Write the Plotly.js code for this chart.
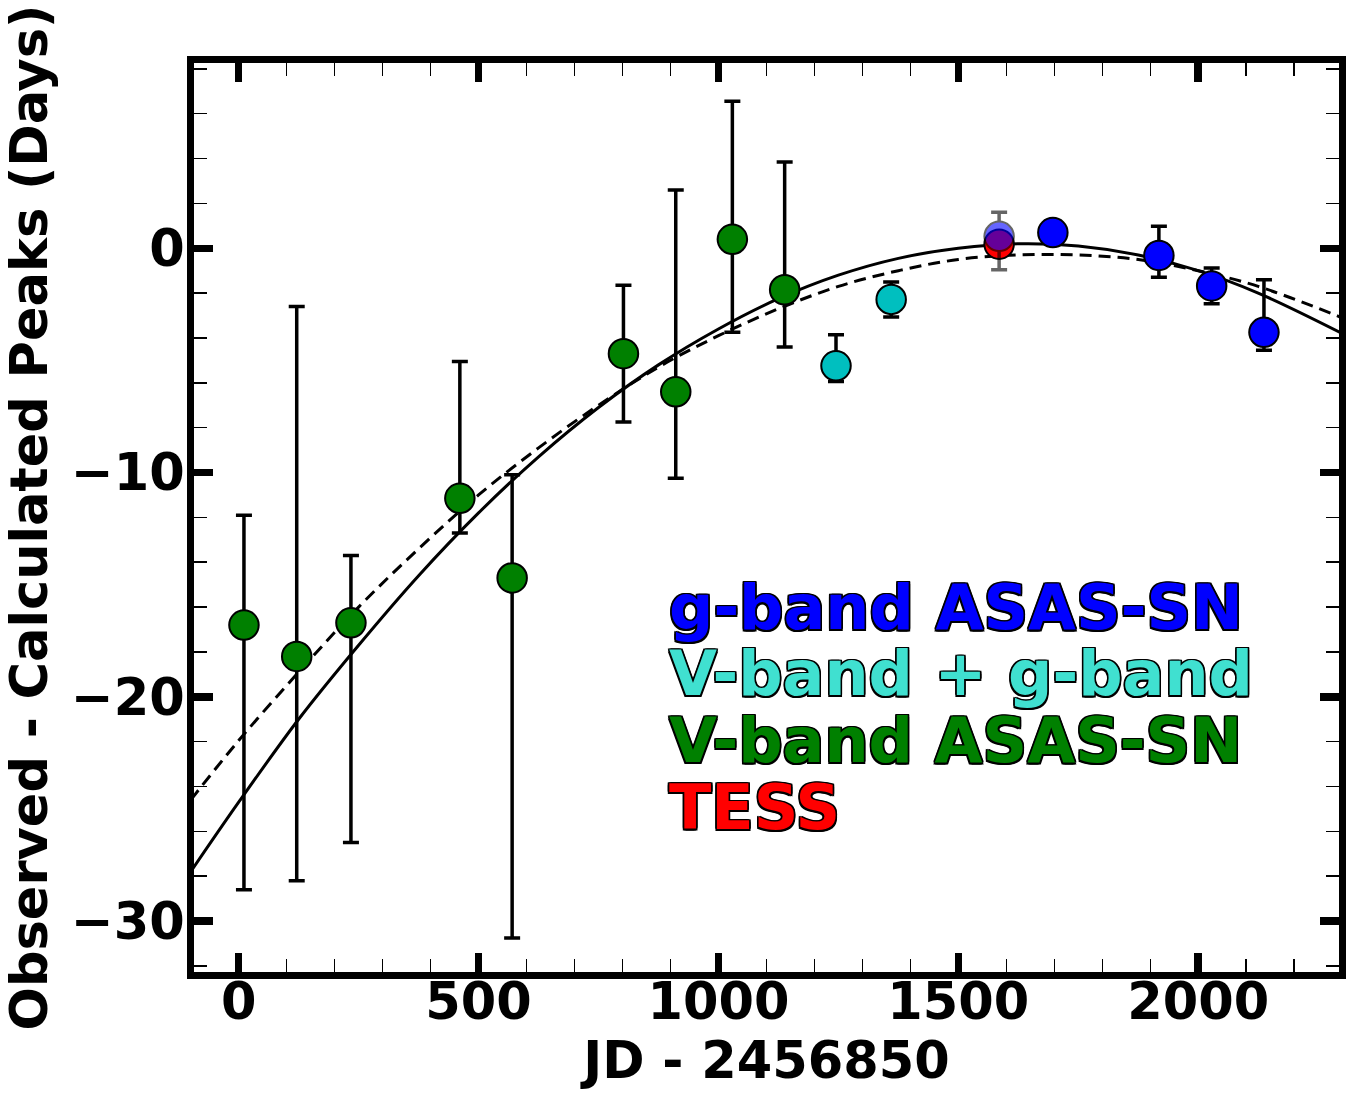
<!DOCTYPE html>
<html>
<head>
<meta charset="utf-8">
<script src="https://cdn.plot.ly/plotly-3.0.1.min.js"></script>
<style>html,body{margin:0;padding:0;background:#fff;}#chart{width:1369px;height:1093px;}</style>
</head>
<body>
<div id="chart"></div>
<script>
// V-band ASAS-SN
const vbandX = [11, 121, 234, 461, 570, 802, 911, 1029, 1138];
const vbandY = [-16.8, -18.2, -16.7, -11.15, -14.7, -4.7, -6.4, 0.4, -1.85];
const vbandErrPlus = [4.9, 15.6, 3.0, 6.1, 4.6, 3.05, 9.0, 6.15, 5.7];
const vbandErrMinus = [11.8, 10.0, 9.8, 1.55, 16.05, 3.05, 3.85, 4.15, 2.55];
// V-band + g-band
const vgX = [1245, 1360];
const vgY = [-5.24, -2.28];
const vgErrPlus = [1.38, 0.77];
const vgErrMinus = [0.70, 0.79];
// g-band ASAS-SN
const gbandX = [1697, 1918, 2028, 2137];
const gbandY = [0.70, -0.32, -1.68, -3.75];
const gbandErrPlus = [0.45, 1.30, 0.80, 2.35];
const gbandErrMinus = [0.45, 0.97, 0.79, 0.80];
// g-band (faded) at TESS epoch
const gFadedX = [1585];
const gFadedY = [0.53];
const gFadedErrPlus = [1.08];
const gFadedErrMinus = [1.49];
// TESS
const tessX = [1585];
const tessY = [0.18];
// fitted curves
const curveX = [-100, 0, 125, 250, 375, 500, 625, 750, 875, 1000, 1125, 1250, 1375, 1500, 1625, 1750, 1875, 2000, 2125, 2300];
const solidY = [-27.8, -24.7, -21.0, -17.7, -14.6, -11.8, -9.3, -7.1, -5.2, -3.6, -2.25, -1.2, -0.45, 0.0, 0.2, 0.1, -0.3, -1.0, -2.0, -3.8];
const dashedY = [-24.6, -21.95, -18.9, -16.0, -13.4, -11.0, -8.9, -7.0, -5.3, -3.9, -2.7, -1.7, -1.0, -0.5, -0.3, -0.3, -0.5, -1.0, -1.7, -3.1];
// legend labels
const legendLabels = ["g-band ASAS-SN", "V-band + g-band", "V-band ASAS-SN", "TESS"];
const legendColors = ["#0000FF", "#40E0D0", "#008000", "#FF0000"];
const legendY = [-16.0, -18.95, -21.93, -24.92];

const FONT = "DejaVu Sans, Liberation Sans, sans-serif";

function errTrace(x, y, plus, minus, color, extra) {
  return Object.assign({
    type: "scatter", mode: "markers", x: x, y: y,
    marker: {size: 29.5, color: color, line: {color: "#000", width: 2}},
    error_y: {type: "data", symmetric: false, array: plus, arrayminus: minus,
              color: "#000", thickness: 3.5, width: 8},
    showlegend: false, hoverinfo: "skip", cliponaxis: false
  }, extra || {});
}

const traces = [
  {type: "scatter", mode: "lines", x: curveX, y: dashedY, line: {color: "#000", width: 3, dash: "12px,7px", shape: "spline"}, showlegend: false, hoverinfo: "skip"},
  {type: "scatter", mode: "lines", x: curveX, y: solidY, line: {color: "#000", width: 3, shape: "spline"}, showlegend: false, hoverinfo: "skip"},
  errTrace(vbandX, vbandY, vbandErrPlus, vbandErrMinus, "#008000"),
  errTrace(vgX, vgY, vgErrPlus, vgErrMinus, "#00BFBF"),
  errTrace(gbandX, gbandY, gbandErrPlus, gbandErrMinus, "#0000FF"),
  {type: "scatter", mode: "markers", x: tessX, y: tessY,
   marker: {size: 29.5, color: "#FF0000", line: {color: "#000", width: 2}}, showlegend: false, hoverinfo: "skip"},
  errTrace(gFadedX, gFadedY, gFadedErrPlus, gFadedErrMinus, "#0000FF", {opacity: 0.6})
];

const outline = "-1.5px -1.5px 0 #000, 1.5px -1.5px 0 #000, -1.5px 1.5px 0 #000, 1.5px 1.5px 0 #000, 0 1.5px 0 #000, 0 -1.5px 0 #000, 1.5px 0 0 #000, -1.5px 0 0 #000";

const annotations = legendLabels.map((t, i) => ({
  xref: "x", yref: "y", x: 893, y: legendY[i], xanchor: "left", yanchor: "middle",
  text: t, showarrow: false,
  font: {family: FONT, size: 62, weight: "bold", color: legendColors[i], shadow: outline}
}));

const axisCommon = {
  showgrid: false, zeroline: false, showline: true, linecolor: "#000", linewidth: 7,
  mirror: "allticks", ticks: "inside", ticklen: 19, tickwidth: 7.5, tickcolor: "#000",
  tickfont: {family: FONT, size: 51, weight: "bold", color: "#000"},
  automargin: false
};

const layout = {
  width: 1369, height: 1093,
  margin: {l: 193.5, r: 29.5, t: 62.5, b: 121},
  paper_bgcolor: "#fff", plot_bgcolor: "#fff",
  showlegend: false,
  xaxis: Object.assign({}, axisCommon, {
    range: [-93.1, 2293.4], tick0: 0, dtick: 500, ticklabelstandoff: -21,
    minor: {ticks: "inside", ticklen: 13, tickwidth: 1.5, tickcolor: "#000", dtick: 100, tick0: 0, showgrid: false},
    title: {text: "JD - 2456850", font: {family: FONT, size: 51, weight: "bold", color: "#000"}, standoff: 10}
  }),
  yaxis: Object.assign({}, axisCommon, {
    range: [-32.27, 8.26], tick0: 0, dtick: 10, ticklabelstandoff: -8,
    minor: {ticks: "inside", ticklen: 13, tickwidth: 1.5, tickcolor: "#000", dtick: 2, tick0: 0, showgrid: false},
    title: {text: "Observed - Calculated Peaks (Days)", font: {family: FONT, size: 51, weight: "bold", color: "#000"}, standoff: 18}
  }),
  annotations: annotations
};

Plotly.newPlot("chart", traces, layout, {displayModeBar: false, staticPlot: true});
</script>
</body>
</html>
